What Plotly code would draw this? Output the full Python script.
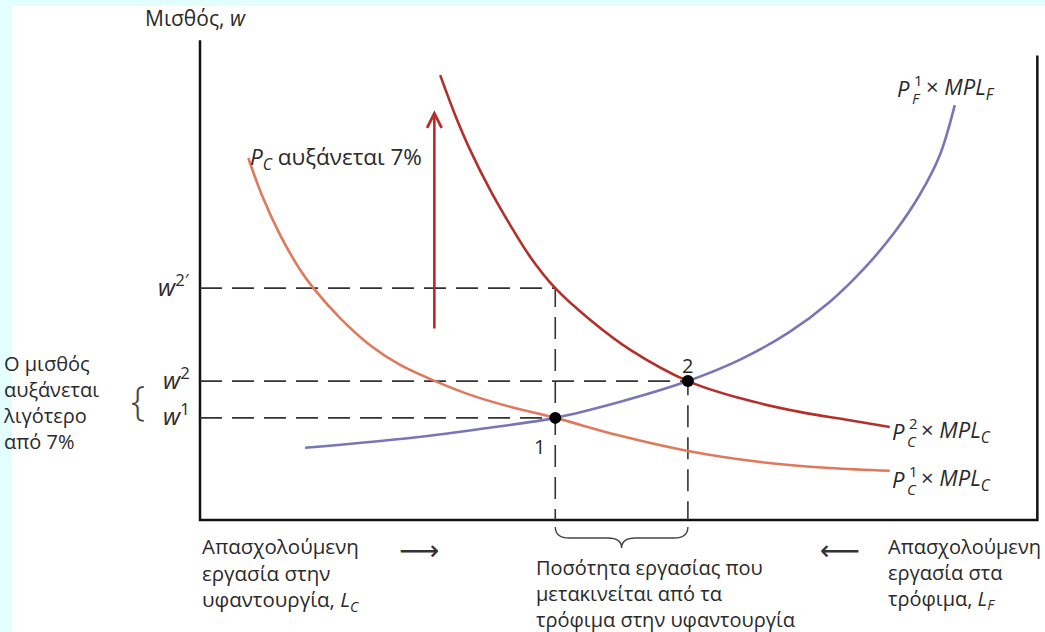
import plotly.graph_objects as go

# ---- data (L = labour, w = wage; axis box spans 0..100 in both) ----
blue_L = [12.6, 24.0, 33.6, 42.6, 50.4, 58.5, 64.7, 70.7, 75.5, 79.7, 83.3, 86.3, 88.7, 90.5]
blue_w = [15.7, 17.6, 19.8, 22.2, 25.7, 30.2, 34.8, 40.9, 47.4, 54.8, 62.6, 70.7, 79.3, 90.2]
orange_L = [5.8, 7.4, 9.6, 12.0, 13.6, 16.8, 20.4, 24.0, 28.2, 32.4, 37.2, 42.6, 50.4, 58.5, 67.2, 75.5, 82.7]
orange_w = [78.7, 70.7, 62.0, 54.4, 50.4, 43.9, 38.0, 33.7, 30.2, 27.2, 24.6, 22.2, 18.3, 15.0, 12.6, 11.3, 10.7]
red_L = [28.8, 30.6, 32.4, 34.8, 37.2, 39.6, 42.6, 46.8, 51.6, 58.5, 64.7, 71.9, 77.9, 82.7]
red_w = [96.7, 88.0, 80.4, 71.7, 64.1, 57.2, 50.4, 43.5, 37.0, 30.2, 26.5, 23.5, 21.7, 20.2]
eq_L = [42.6, 58.5]          # equilibria 1 and 2
eq_w = [22.2, 30.2]          # w1, w2
w2_prime = 50.4              # w2'
arrow_L = 28.1
arrow_w = [41.3, 89.1]
box_L = [0, 100.4]
box_top_left = 104.3
box_top_right = 101.0

# pixel scale helpers (only for text offsets)
SX = 8.34   # px per L unit
SY = 4.6    # px per w unit
def dx(px): return px / SX
def dy(px): return px / SY

BLUE = "#7876B5"
ORANGE = "#E0795B"
RED = "#B3302A"
DASH = "#333333"
FONT = "Open Sans"
TXT = "#2a2a2a"

fig = go.Figure()

# axes box
fig.add_trace(go.Scatter(x=[box_L[0], box_L[0], box_L[1], box_L[1]],
                         y=[box_top_left, 0, 0, box_top_right],
                         mode="lines", line=dict(color="#111", width=2.5),
                         hoverinfo="skip", showlegend=False))

# dashed guide lines
dash_style = dict(color=DASH, width=1.6, dash="22px,10px")
fig.add_trace(go.Scatter(x=[0, eq_L[0], eq_L[0]], y=[w2_prime, w2_prime, 0],
                         mode="lines", line=dash_style, showlegend=False, hoverinfo="skip"))
fig.add_trace(go.Scatter(x=[0, eq_L[1], eq_L[1]], y=[eq_w[1], eq_w[1], 0],
                         mode="lines", line=dash_style, showlegend=False, hoverinfo="skip"))
fig.add_trace(go.Scatter(x=[0, eq_L[0]], y=[eq_w[0], eq_w[0]],
                         mode="lines", line=dash_style, showlegend=False, hoverinfo="skip"))

# curves
fig.add_trace(go.Scatter(x=orange_L, y=orange_w, mode="lines",
                         line=dict(color=ORANGE, width=2.6, shape="spline", smoothing=1.0),
                         showlegend=False, hoverinfo="skip"))
fig.add_trace(go.Scatter(x=red_L, y=red_w, mode="lines",
                         line=dict(color=RED, width=2.6, shape="spline", smoothing=1.0),
                         showlegend=False, hoverinfo="skip"))
fig.add_trace(go.Scatter(x=blue_L, y=blue_w, mode="lines",
                         line=dict(color=BLUE, width=2.6, shape="spline", smoothing=1.0),
                         showlegend=False, hoverinfo="skip"))

# equilibrium points
fig.add_trace(go.Scatter(x=eq_L, y=eq_w, mode="markers",
                         marker=dict(color="#000", size=12),
                         showlegend=False, hoverinfo="skip"))

ann = []
def text(x, y, t, size=21, xanchor="center", yanchor="middle", align="left",
         color=TXT, family=FONT, weight=None, xref="x", yref="y"):
    f = dict(family=family, size=size, color=color)
    if weight:
        f["weight"] = weight
    ann.append(dict(x=x, y=y, xref=xref, yref=yref, text=t, showarrow=False,
                    xanchor=xanchor, yanchor=yanchor, align=align, font=f))

# red upward arrow
ann.append(dict(x=arrow_L, y=arrow_w[1], ax=arrow_L, ay=arrow_w[0], xref="x", yref="y",
                axref="x", ayref="y", showarrow=True, arrowhead=5, arrowsize=1.1,
                arrowwidth=2.6, arrowcolor=RED, text=""))

# axis titles / tick labels
text(-0.6, 109.1, "Μισθός, <i>w</i>", size=21)
text(-1.0, w2_prime + dy(3), "<i>w</i><sup>2′</sup>", size=24, xanchor="right")
text(-1.0, eq_w[1] + dy(3), "<i>w</i><sup>2</sup>", size=24, xanchor="right")
text(-1.0, eq_w[0] + dy(3), "<i>w</i><sup>1</sup>", size=24, xanchor="right")
# left note (placed in paper coordinates, it lies left of the x range)
text((1 - 12) / 1033, 1 - (402 - 6) / 626,
     "Ο μισθός<br>αυξάνεται<br>λιγότερο<br>από 7%", size=20, xanchor="left",
     xref="paper", yref="paper")
text(-7.4, 26.1, "{", size=40, family=FONT, color="#444", weight=300)

# point labels
text(eq_L[0] - dx(16), eq_w[0] - dy(29), "1", size=20)
text(eq_L[1], eq_w[1] + dy(16), "2", size=20)

# curve labels
text(orange_L[0], orange_w[0], "<i>P</i><sub><i>C</i></sub> αυξάνεται 7%", size=22.5, xanchor="left")

def stacked(x0, y0, sup, sub, sub2):
    text(x0, y0, "<i>P</i>", size=22, xanchor="left")
    text(x0 + dx(17), y0 + dy(8), sup, size=15, xanchor="left")
    text(x0 + dx(15), y0 - dy(10), "<i>" + sub + "</i>", size=15, xanchor="left")
    text(x0 + dx(29), y0, "× <i>MPL</i><sub><i>" + sub2 + "</i></sub>", size=22, xanchor="left")

stacked(dx(895 - 200), dy(520 - 88), "1", "F", "F")
stacked(dx(890 - 200), dy(520 - 431), "2", "C", "C")
stacked(dx(890 - 200), dy(520 - 479), "1", "C", "C")

# bottom labels
text(0, -11.7, "Απασχολούμενη<br>εργασία στην<br>υφαντουργία, <i>L</i><sub><i>C</i></sub>",
     size=20.5, xanchor="left")
text(26.3, -6.7, "⟶", size=28, family="DejaVu Sans", color="#333")
text(40.0, -16.0, "Ποσότητα εργασίας που<br>μετακινείται από τα<br>τρόφιμα στην υφαντουργία",
     size=20, xanchor="left")
text(76.7, -6.7, "⟵", size=28, family="DejaVu Sans", color="#333")
text(82.2, -11.7, "Απασχολούμενη<br>εργασία στα<br>τρόφιμα, <i>L</i><sub><i>F</i></sub>",
     size=20, xanchor="left")

# horizontal brace under the shifted labour
L1, L2 = eq_L
mid = (L1 + L2) / 2
y_top, y_mid, y_tip = -1.5, -3.9, -6.1
h = dx(14)
path = (f"M {L1},{y_top} Q {L1},{y_mid} {L1 + h},{y_mid} L {mid - h},{y_mid} "
        f"Q {mid},{y_mid} {mid},{y_tip} Q {mid},{y_mid} {mid + h},{y_mid} "
        f"L {L2 - h},{y_mid} Q {L2},{y_mid} {L2},{y_top}")
shapes = [
    dict(type="path", path=path, xref="x", yref="y", line=dict(color="#444", width=1.4)),
]

fig.update_layout(
    width=1045, height=632,
    margin=dict(l=12, r=0, t=6, b=0),
    paper_bgcolor="#E2FEFE",
    plot_bgcolor="white",
    xaxis=dict(range=[dx(12 - 200), dx(1045 - 200)], visible=False, fixedrange=True),
    yaxis=dict(range=[dy(520 - 632), dy(520 - 6)], visible=False, fixedrange=True),
    annotations=ann,
    shapes=shapes,
    showlegend=False,
)

fig.write_html("out.html", config={"displayModeBar": False},
               post_script="document.body.style.margin='0px';document.body.style.overflow='hidden';")
